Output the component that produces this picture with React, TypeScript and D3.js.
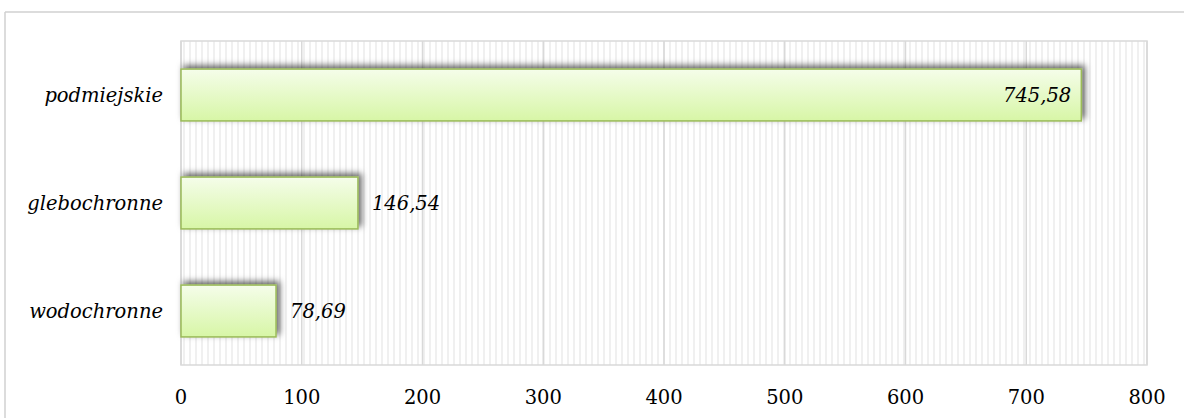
import React from "react";
import * as d3 from "d3";

const categories = ["podmiejskie", "glebochronne", "wodochronne"];
const values = [745.58, 146.54, 78.69];
const valueLabels = ["745,58", "146,54", "78,69"];
const ticks = [0, 100, 200, 300, 400, 500, 600, 700, 800];

const W = 1184;
const H = 418;
const left = 181;
const right = 1147;
const top = 41;
const bottom = 365;

export default function App() {
  const x = d3.scaleLinear().domain([0, 800]).range([left, right]);
  const y = d3.scaleBand().domain(categories).range([top, bottom]).paddingInner(0.52).paddingOuter(0.26);
  const font = "'DejaVu Serif', serif";
  const fs = 19.5;
  const minor = d3.range(left + 3, right, 6);
  return (
    <svg width={W} height={H} style={{ position: "absolute", left: 0, top: 0, background: "#fff", display: "block" }}>
      <defs>
        <linearGradient id="barg" x1="0" y1="0" x2="0" y2="1">
          <stop offset="0" stopColor="#f5fdea" />
          <stop offset="1" stopColor="#d7f6a6" />
        </linearGradient>
        <filter id="shadow" x="-20%" y="-40%" width="140%" height="180%">
          <feDropShadow dx="3" dy="-3" stdDeviation="3" floodColor="#000" floodOpacity="0.6" />
        </filter>
      </defs>
      <line x1={5} x2={W} y1={12} y2={12} stroke="#d0d0d0" strokeWidth={1.5} />
      <line x1={5} x2={5} y1={12} y2={H} stroke="#d0d0d0" strokeWidth={1.5} />
      <rect x={left} y={top} width={right - left} height={bottom - top} fill="#fff" />
      {minor.map((m, i) => (
        <line key={"m" + i} x1={m} x2={m} y1={top} y2={bottom} stroke="#f0f0f0" strokeWidth={2} />
      ))}
      {ticks.map((t) => (
        <line key={"g" + t} x1={x(t)} x2={x(t)} y1={top} y2={bottom} stroke="#d9d9d9" strokeWidth={1.5} />
      ))}
      <rect x={left} y={top} width={right - left} height={bottom - top} fill="none" stroke="#d9d9d9" strokeWidth={1.5} />
      {categories.map((c, i) => (
        <g key={c}>
          <rect
            x={x(0)}
            y={y(c)!}
            width={x(values[i]) - x(0)}
            height={y.bandwidth()}
            fill="url(#barg)"
            stroke="#9bbb59"
            strokeWidth={1.5}
            filter="url(#shadow)"
          />
          <text
            x={left - 18}
            y={y(c)! + y.bandwidth() / 2}
            textAnchor="end"
            dominantBaseline="central"
            fontFamily={font}
            fontStyle="italic"
            fontSize={fs}
            fill="#000"
          >
            {c}
          </text>
          {values[i] > 500 ? (
            <text
              x={x(values[i]) - 10}
              y={y(c)! + y.bandwidth() / 2}
              textAnchor="end"
              dominantBaseline="central"
              fontFamily={font}
              fontStyle="italic"
              fontSize={fs}
              fill="#000"
            >
              {valueLabels[i]}
            </text>
          ) : (
            <text
              x={x(values[i]) + 14}
              y={y(c)! + y.bandwidth() / 2}
              textAnchor="start"
              dominantBaseline="central"
              fontFamily={font}
              fontStyle="italic"
              fontSize={fs}
              fill="#000"
            >
              {valueLabels[i]}
            </text>
          )}
        </g>
      ))}
      {ticks.map((t) => (
        <text
          key={"t" + t}
          x={x(t)}
          y={397}
          textAnchor="middle"
          dominantBaseline="central"
          fontFamily={font}
          fontSize={fs}
          fill="#000"
        >
          {t}
        </text>
      ))}
    </svg>
  );
}
